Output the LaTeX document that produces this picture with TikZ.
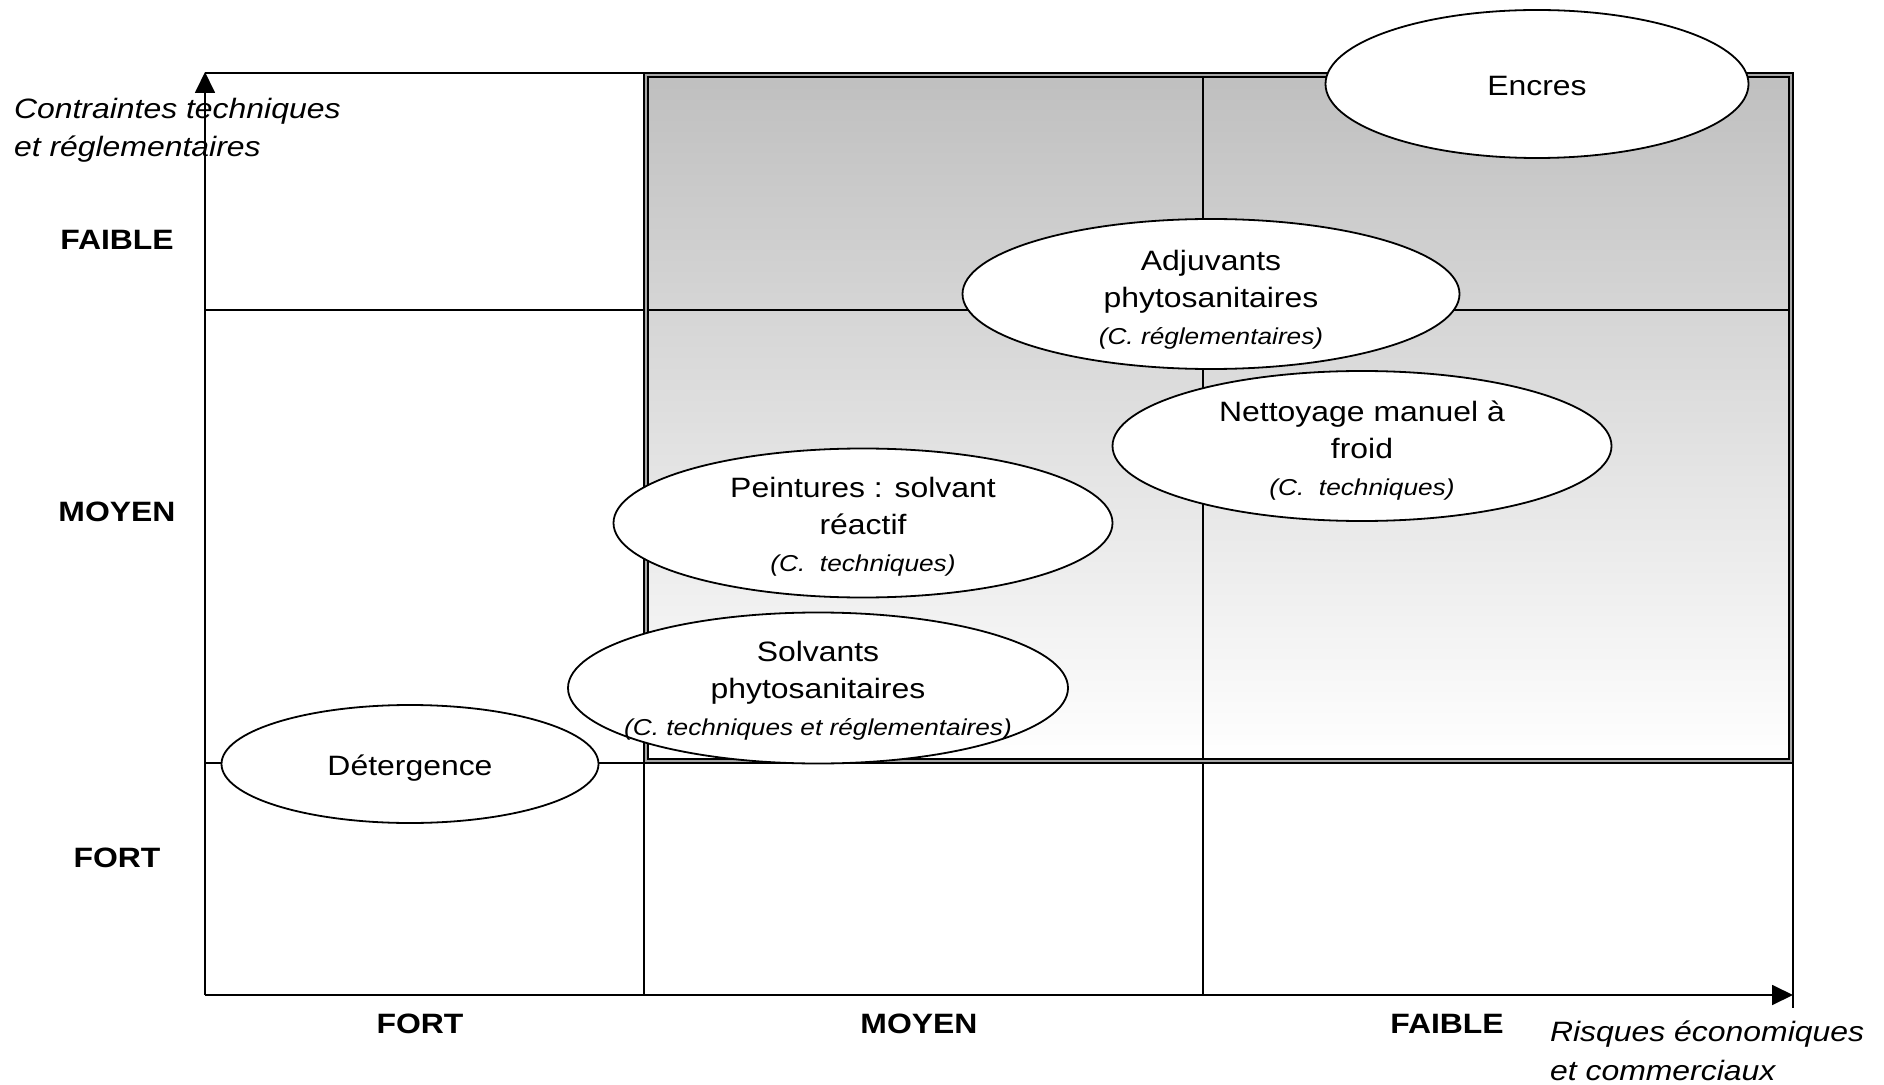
\documentclass[tikz,border=0pt]{standalone}
\usepackage{fontspec}
\setmainfont{Liberation Sans}[FakeStretch=1.14]
\usetikzlibrary{shapes.geometric,arrows.meta}

\begin{document}
\begin{tikzpicture}[x=0.5pt,y=-0.5pt,
    grid/.style={line width=0.9pt},
    axis/.style={line width=0.9pt,-{Triangle[length=10.5pt,width=10pt]}},
    oval/.style={ellipse,draw,line width=0.9pt,fill=white,inner sep=0pt},
    txt/.style={align=center,font=\fontsize{14}{18.5}\selectfont},
    level/.style={font=\fontsize{14}{18.5}\selectfont\bfseries},
    axislbl/.style={align=left,anchor=west,font=\fontsize{14}{19.2}\selectfont\itshape}]
  \useasboundingbox (0,0) rectangle (1884,1085);
  % zone grisee
  \shade[top color=black!25,middle color=black!15,bottom color=white] (646,75) rectangle (1791,761);
  % grille
  \draw[grid] (205,73) -- (1793,73) -- (1793,1008);
  \draw[grid] (205,310) -- (1793,310);
  \draw[grid] (205,763) -- (1793,763);
  \draw[grid] (644,73) -- (644,995);
  \draw[grid] (1203,73) -- (1203,995);
  \draw[line width=0.8pt,double=black!35,double distance=1pt] (646,75) rectangle (1791,761);
  % axes
  \coordinate (origin) at (205,995);
  \coordinate (ytop) at (205,72);
  \coordinate (xend) at (1793,995);
  \draw[axis] (origin) -- (ytop);
  \draw[axis] (origin) -- (xend);
  \node[axislbl] (ytitle) at (7,130) {Contraintes techniques\\et réglementaires};
  \node[axislbl] (xtitle) at (1543,1051) {Risques économiques\\et commerciaux};
  \node[level] (yfaible) at (117,240) {FAIBLE};
  \node[level] (ymoyen) at (117,512) {MOYEN};
  \node[level] (yfort) at (117,858) {FORT};
  \node[level] (xfort) at (420,1024) {FORT};
  \node[level] (xmoyen) at (919,1024) {MOYEN};
  \node[level] (xfaible) at (1447,1024) {FAIBLE};
  % activites
  \node[oval,minimum width=211.5pt,minimum height=74pt] (encres) at (1537,84) {};
  \node[txt] (encres-t) at (1537,86) {Encres};
  \node[oval,minimum width=248.5pt,minimum height=75pt] (adjuvants) at (1211,294) {};
  \node[txt] (adjuvants-t) at (1211,300) {Adjuvants\\phytosanitaires\\{\fontsize{11.5}{17.5}\selectfont\itshape (C. réglementaires)}};
  \node[oval,minimum width=249.5pt,minimum height=75pt] (nettoyage) at (1362,446) {};
  \node[txt] (nettoyage-t) at (1362,451) {Nettoyage manuel à\\froid\\{\fontsize{11.5}{17.5}\selectfont\itshape (C.~~techniques)}};
  \node[oval,minimum width=249.5pt,minimum height=74.5pt] (peintures) at (863,523) {};
  \node[txt] (peintures-t) at (863,527) {Peintures : solvant\\réactif\\{\fontsize{11.5}{17.5}\selectfont\itshape (C.~~techniques)}};
  \node[oval,minimum width=250pt,minimum height=75.5pt] (solvants) at (818,688) {};
  \node[txt] (solvants-t) at (818,691) {Solvants\\phytosanitaires\\{\fontsize{11.5}{17.5}\selectfont\itshape (C. techniques et réglementaires)}};
  \node[oval,minimum width=188.5pt,minimum height=59pt] (detergence) at (410,764) {};
  \node[txt] (detergence-t) at (410,768) {Détergence};
\end{tikzpicture}
\end{document}
